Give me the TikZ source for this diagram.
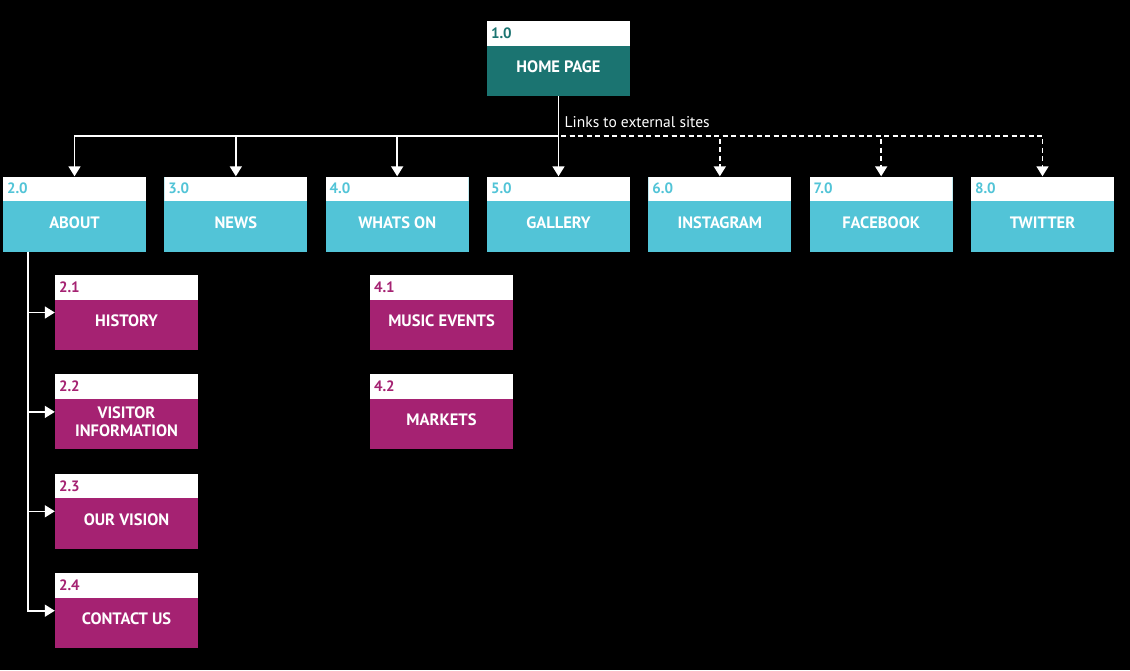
\documentclass[tikz,border=0pt]{standalone}
\usepackage{fontspec}
\setmainfont{PT Sans}
\usepackage{xcolor}
\usepackage{tikz}
\usetikzlibrary{positioning,arrows.meta}
\definecolor{hometeal}{HTML}{1B7471}
\definecolor{topcyan}{HTML}{52C4D7}
\definecolor{submagenta}{HTML}{A52272}
\tikzset{
  pagebox/.style 2 args={fill=#2, minimum width=143, minimum height=75,
    inner sep=0pt, text=white, align=center,
    font=\bfseries\fontsize{16.5}{18}\selectfont, text height=28pt, text depth=0pt,
    path picture={\fill[white] (path picture bounding box.north west)
      rectangle ([yshift=-24.5pt]path picture bounding box.north east);},
    label={[anchor=west, yshift=-12.25pt, inner sep=4pt, text=#2,
      font=\bfseries\fontsize{15}{15}\selectfont]north west:#1}},
  homepage/.style={pagebox={#1}{hometeal}},
  toppage/.style={pagebox={#1}{topcyan}},
  subpage/.style={pagebox={#1}{submagenta}}
}
\begin{document}
\begin{tikzpicture}[x=1pt,y=-1pt]
    \tikzstyle{link}=[draw=white, line width=1.6pt, -{Triangle[width=12pt,length=10pt]}]
    \tikzstyle{extlink}=[dash pattern=on 5pt off 3.5pt]
    \tikzstyle{extlabel}=[text=white, font=\fontsize{15.5}{17}\selectfont, inner sep=0pt]
    \fill[black] (0,0) rectangle (1130,670);
    \node[homepage={1.0}] (home) at (558.5,58.5) {HOME PAGE}
    [level distance=155.5, sibling distance=161.33,
     edge from parent/.style={link},
     edge from parent path={(\tikzparentnode.south) -- ++(0,40) -| (\tikzchildnode.north)}]
    child { node[toppage={2.0}] (about) {ABOUT} }
    child { node[toppage={3.0}] (news) {NEWS} }
    child { node[toppage={4.0}] (whatson) {WHATS ON} }
    child { node[toppage={5.0}] (gallery) {GALLERY} }
    child { node[toppage={6.0}] (instagram) {INSTAGRAM} edge from parent[extlink] }
    child { node[toppage={7.0}] (facebook) {FACEBOOK} edge from parent[extlink] }
    child { node[toppage={8.0}] (twitter) {TWITTER} edge from parent[extlink] };
    \node[extlabel, anchor=west] (extsites) at ([xshift=6pt,yshift=-26pt]home.south) {Links to external sites};

    \node[subpage={2.1}] (history) at (126.5,312.5) {HISTORY};
    \node[subpage={2.2}, text height=49pt, below=24pt of history] (visitor) {VISITOR\\INFORMATION};
    \node[subpage={2.3}, below=24pt of visitor] (vision) {OUR VISION};
    \node[subpage={2.4}, below=24pt of vision] (contact) {CONTACT US};
    \coordinate (aboutbus) at ([xshift=25pt]about.south west);
    \foreach \n in {history,visitor,vision,contact}
      \draw[link] (aboutbus) |- (\n.west);

    \node[subpage={4.1}] (music) at (441.5,312.5) {MUSIC EVENTS};
    \node[subpage={4.2}, below=24pt of music] (markets) {MARKETS};
  \end{tikzpicture}
\end{document}
